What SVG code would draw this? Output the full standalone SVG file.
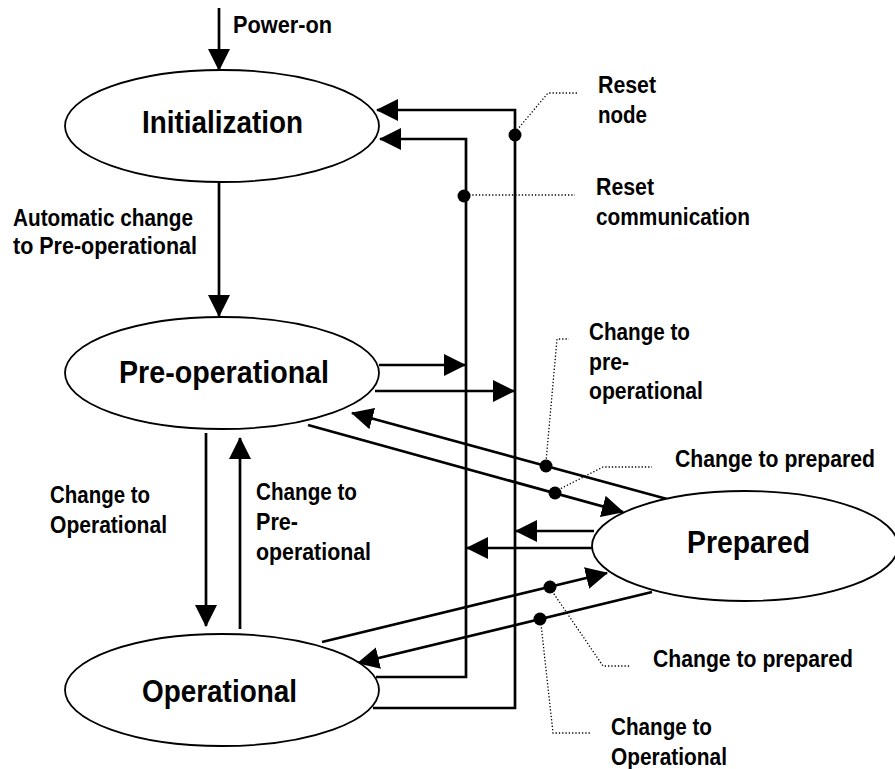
<svg xmlns="http://www.w3.org/2000/svg" width="895" height="769" viewBox="0 0 895 769">
<style>
.node ellipse{fill:#fff;stroke:#000;stroke-width:1.8}
.title{font-family:"Liberation Sans Narrow","Liberation Sans",Arial,sans-serif;font-weight:bold;font-size:31px;fill:#000}
.lbl{font-family:"Liberation Sans Narrow","Liberation Sans",Arial,sans-serif;font-weight:bold;font-size:23px;fill:#000}
.conn{fill:none;stroke:#000;stroke-width:2.7}
.dot{fill:#000}
.lead{fill:none;stroke:#000;stroke-width:1.3;stroke-dasharray:1.3 2}
</style>
<defs>
<marker id="ah" viewBox="0 0 22 22" refX="21" refY="11" markerWidth="22" markerHeight="22" orient="auto" markerUnits="userSpaceOnUse">
<path d="M0,0 L22,11 L0,22 z" fill="#000"/>
</marker>
</defs>

<g id="connectors">
<path class="conn" d="M219,8 V70" marker-end="url(#ah)"/>
<path class="conn" d="M219,182 V316" marker-end="url(#ah)"/>
<path class="conn" d="M373,708 H515 V110 H377" marker-end="url(#ah)"/>
<path class="conn" d="M376,677 H466 V139 H380" marker-end="url(#ah)"/>
<path class="conn" d="M379,365 H465" marker-end="url(#ah)"/>
<path class="conn" d="M375,391 H514" marker-end="url(#ah)"/>
<path class="conn" d="M594,531 H516" marker-end="url(#ah)"/>
<path class="conn" d="M592,548 H467" marker-end="url(#ah)"/>
<path class="conn" d="M667,499 L352,413" marker-end="url(#ah)"/>
<path class="conn" d="M308,425 L623,512" marker-end="url(#ah)"/>
<path class="conn" d="M322,642 L607,573" marker-end="url(#ah)"/>
<path class="conn" d="M652,592 L358,663" marker-end="url(#ah)"/>
<path class="conn" d="M206,433 V626" marker-end="url(#ah)"/>
<path class="conn" d="M240,629 V438" marker-end="url(#ah)"/>
<circle class="dot" cx="515" cy="135" r="6.5"/>
<circle class="dot" cx="464" cy="196" r="6.5"/>
<circle class="dot" cx="546" cy="466" r="6.5"/>
<circle class="dot" cx="555" cy="493" r="6.5"/>
<circle class="dot" cx="550" cy="587" r="6.5"/>
<circle class="dot" cx="540" cy="619" r="6.5"/>
<path class="lead" d="M517,130 L548,93 H577"/>
<path class="lead" d="M469,195 H575"/>
<path class="lead" d="M546,462 L557,339 H569"/>
<path class="lead" d="M558,490 L603,467 H652"/>
<path class="lead" d="M552,591 L603,666 H630"/>
<path class="lead" d="M541,624 L553,733 H590"/>
</g>

<g id="initialization" class="node">
<ellipse cx="222" cy="126" rx="157" ry="56"/>
<text class="title" x="142" y="133" textLength="161" lengthAdjust="spacingAndGlyphs">Initialization</text>
</g>
<g id="preoperational" class="node">
<ellipse cx="222" cy="373" rx="157" ry="56"/>
<text class="title" x="119" y="383" textLength="210" lengthAdjust="spacingAndGlyphs">Pre-operational</text>
</g>
<g id="operational" class="node">
<ellipse cx="222" cy="690" rx="157" ry="56"/>
<text class="title" x="142" y="702" textLength="155" lengthAdjust="spacingAndGlyphs">Operational</text>
</g>
<g id="prepared" class="node">
<ellipse cx="745" cy="546" rx="153" ry="55"/>
<text class="title" x="687" y="553" textLength="123" lengthAdjust="spacingAndGlyphs">Prepared</text>
</g>

<g id="labels">
<text class="lbl" x="233" y="33" textLength="99" lengthAdjust="spacingAndGlyphs">Power-on</text>
<text class="lbl" x="598" y="93" textLength="58" lengthAdjust="spacingAndGlyphs">Reset</text>
<text class="lbl" x="598" y="123" textLength="49" lengthAdjust="spacingAndGlyphs">node</text>
<text class="lbl" x="596" y="195" textLength="58" lengthAdjust="spacingAndGlyphs">Reset</text>
<text class="lbl" x="596" y="225" textLength="154" lengthAdjust="spacingAndGlyphs">communication</text>
<text class="lbl" x="13" y="226" textLength="180" lengthAdjust="spacingAndGlyphs">Automatic change</text>
<text class="lbl" x="13" y="254" textLength="184" lengthAdjust="spacingAndGlyphs">to Pre-operational</text>
<text class="lbl" x="589" y="340" textLength="101" lengthAdjust="spacingAndGlyphs">Change to</text>
<text class="lbl" x="589" y="370" textLength="40" lengthAdjust="spacingAndGlyphs">pre-</text>
<text class="lbl" x="589" y="399" textLength="114" lengthAdjust="spacingAndGlyphs">operational</text>
<text class="lbl" x="675" y="467" textLength="200" lengthAdjust="spacingAndGlyphs">Change to prepared</text>
<text class="lbl" x="50" y="503" textLength="100" lengthAdjust="spacingAndGlyphs">Change to</text>
<text class="lbl" x="50" y="533" textLength="117" lengthAdjust="spacingAndGlyphs">Operational</text>
<text class="lbl" x="256" y="500" textLength="101" lengthAdjust="spacingAndGlyphs">Change to</text>
<text class="lbl" x="256" y="530" textLength="42" lengthAdjust="spacingAndGlyphs">Pre-</text>
<text class="lbl" x="256" y="560" textLength="115" lengthAdjust="spacingAndGlyphs">operational</text>
<text class="lbl" x="653" y="667" textLength="200" lengthAdjust="spacingAndGlyphs">Change to prepared</text>
<text class="lbl" x="611" y="735" textLength="101" lengthAdjust="spacingAndGlyphs">Change to</text>
<text class="lbl" x="611" y="765" textLength="116" lengthAdjust="spacingAndGlyphs">Operational</text>
</g>
</svg>
